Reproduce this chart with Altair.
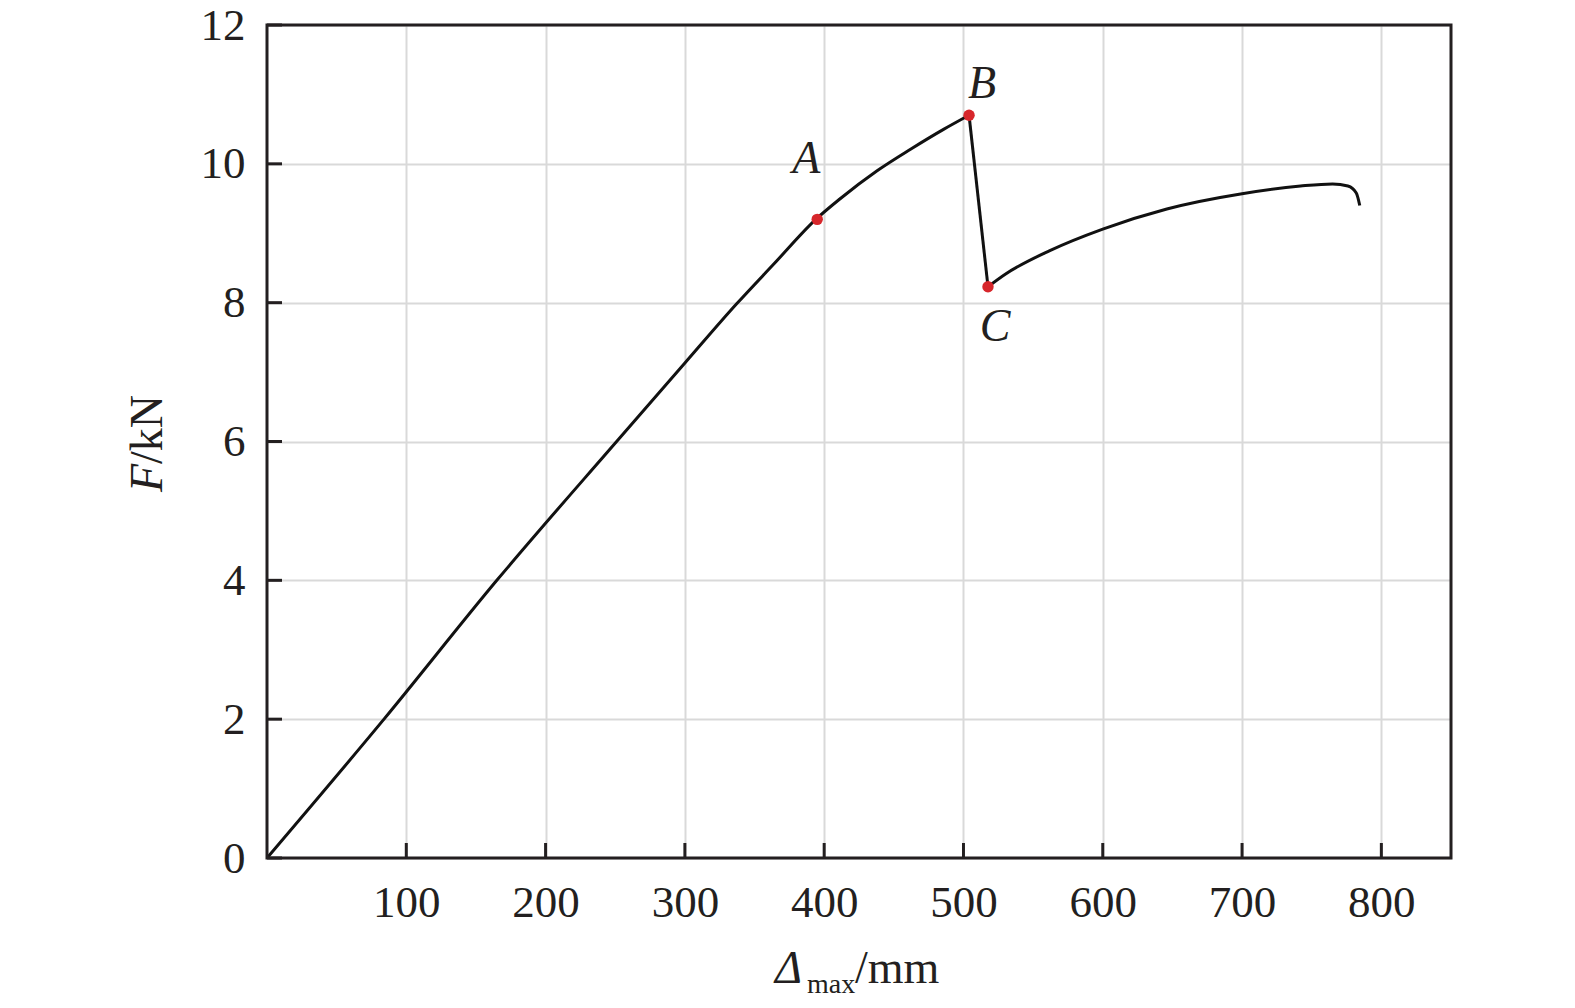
import altair as alt
import pandas as pd

# ---- data ----
rise_x = [0, 84, 165, 251, 300, 337, 364, 394, 411, 438, 462, 486, 504]
rise_y = [0, 2.0, 4.0, 6.0, 7.13, 7.98, 8.56, 9.2, 9.49, 9.9, 10.21, 10.5, 10.7]
drop_x = [504, 517.6]
drop_y = [10.7, 8.23]
recover_x = [517.6, 530, 562, 600, 646, 700, 742, 765, 776, 782, 784.5]
recover_y = [8.23, 8.41, 8.75, 9.06, 9.35, 9.57, 9.68, 9.71, 9.68, 9.58, 9.40]

key_x = [395, 504, 517.6]
key_y = [9.2, 10.7, 8.23]
key_labels = ["A", "B", "C"]

x_ticks = [100, 200, 300, 400, 500, 600, 700, 800]
y_ticks = [0, 2, 4, 6, 8, 10, 12]

# ---- tables ----
curve_df = pd.concat([
    pd.DataFrame({"disp": rise_x, "force": rise_y, "segment": "rise"}),
    pd.DataFrame({"disp": drop_x, "force": drop_y, "segment": "drop"}),
    pd.DataFrame({"disp": recover_x, "force": recover_y, "segment": "recover"}),
], ignore_index=True)
key_df = pd.DataFrame({"disp": key_x, "force": key_y, "label": key_labels})
xt_df = pd.DataFrame({"disp": x_ticks})
yt_df = pd.DataFrame({"force": y_ticks})
one = pd.DataFrame({"a": [0]})

W, H = 1184, 833
FONT = "Liberation Serif"
INK = "#231f20"
RED = "#d7262b"
GRID = "#d9d9d9"

x_scale = alt.Scale(domain=[0, 850], nice=False, zero=False)
y_scale = alt.Scale(domain=[0, 12], nice=False)

x_axis = alt.Axis(values=x_ticks, title=None, grid=True, gridColor=GRID, gridWidth=2,
                  domain=False, ticks=False, tickSize=0, labelFont=FONT, labelFontSize=45,
                  labelColor=INK, labelPadding=22, labelFlush=False, format="d")
y_axis = alt.Axis(values=y_ticks, title=None, grid=True, gridColor=GRID, gridWidth=2,
                  domain=False, ticks=False, tickSize=0, labelFont=FONT, labelFontSize=45,
                  labelColor=INK, labelPadding=22, labelFlush=False, format="d")

X = alt.X("disp:Q", scale=x_scale, axis=x_axis)
Y = alt.Y("force:Q", scale=y_scale, axis=y_axis)
Xn = alt.X("disp:Q", scale=x_scale)
Yn = alt.Y("force:Q", scale=y_scale)

line = alt.Chart(curve_df).mark_line(color="#111111", strokeWidth=3, interpolate="monotone").encode(
    x=X, y=Y, detail="segment:N"
)

points = alt.Chart(key_df).mark_circle(size=130, color=RED, opacity=1).encode(x=Xn, y=Yn)

offsets = {"A": (-11, -46), "B": (13, -17), "C": (7, 54)}
label_layers = []
for lab in key_labels:
    dx, dy = offsets[lab]
    label_layers.append(
        alt.Chart(key_df).transform_filter(alt.datum.label == lab).mark_text(
            font=FONT, fontSize=46, fontStyle="italic", color=INK, align="center",
            baseline="alphabetic", dx=dx, dy=dy
        ).encode(x=Xn, y=Yn, text="label:N")
    )

x_tick_marks = alt.Chart(xt_df).mark_rule(color=INK, strokeWidth=3).encode(
    x=Xn, y=alt.value(H), y2=alt.value(H - 15)
)
y_tick_marks = alt.Chart(yt_df).mark_rule(color=INK, strokeWidth=3).encode(
    y=Yn, x=alt.value(0), x2=alt.value(15)
)

frame = alt.Chart(one).mark_rect(stroke=INK, strokeWidth=3, fillOpacity=0).encode(
    x=alt.value(0), x2=alt.value(W), y=alt.value(0), y2=alt.value(H)
)

# axis titles built from text pieces (italic symbol + upright unit)
yt_F = alt.Chart(one).mark_text(text="F", font=FONT, fontSize=46, fontStyle="italic", color=INK,
                                angle=270, align="right", baseline="alphabetic").encode(
    x=alt.value(-105), y=alt.value(439))
yt_unit = alt.Chart(one).mark_text(text="/kN", font=FONT, fontSize=46, color=INK,
                                   angle=270, align="left", baseline="alphabetic").encode(
    x=alt.value(-105), y=alt.value(439))
xt_D = alt.Chart(one).mark_text(text="Δ", font=FONT, fontSize=46, fontStyle="italic", color=INK,
                                align="left", baseline="alphabetic").encode(
    x=alt.value(508), y=alt.value(958))
xt_sub = alt.Chart(one).mark_text(text="max", font=FONT, fontSize=28, color=INK,
                                  align="left", baseline="alphabetic").encode(
    x=alt.value(540), y=alt.value(968))
xt_unit = alt.Chart(one).mark_text(text="/mm", font=FONT, fontSize=46, color=INK,
                                   align="left", baseline="alphabetic").encode(
    x=alt.value(588), y=alt.value(958))

chart = alt.layer(
    line, x_tick_marks, y_tick_marks, frame, points, *label_layers,
    yt_F, yt_unit, xt_D, xt_sub, xt_unit
).properties(
    width=W, height=H,
    autosize=alt.AutoSizeParams(type="none"),
    padding={"left": 259, "top": 17, "right": 80, "bottom": 140},
    background="white",
).configure_view(stroke="transparent")

chart.save("out.html", embed_options={"renderer": "svg", "actions": False})
